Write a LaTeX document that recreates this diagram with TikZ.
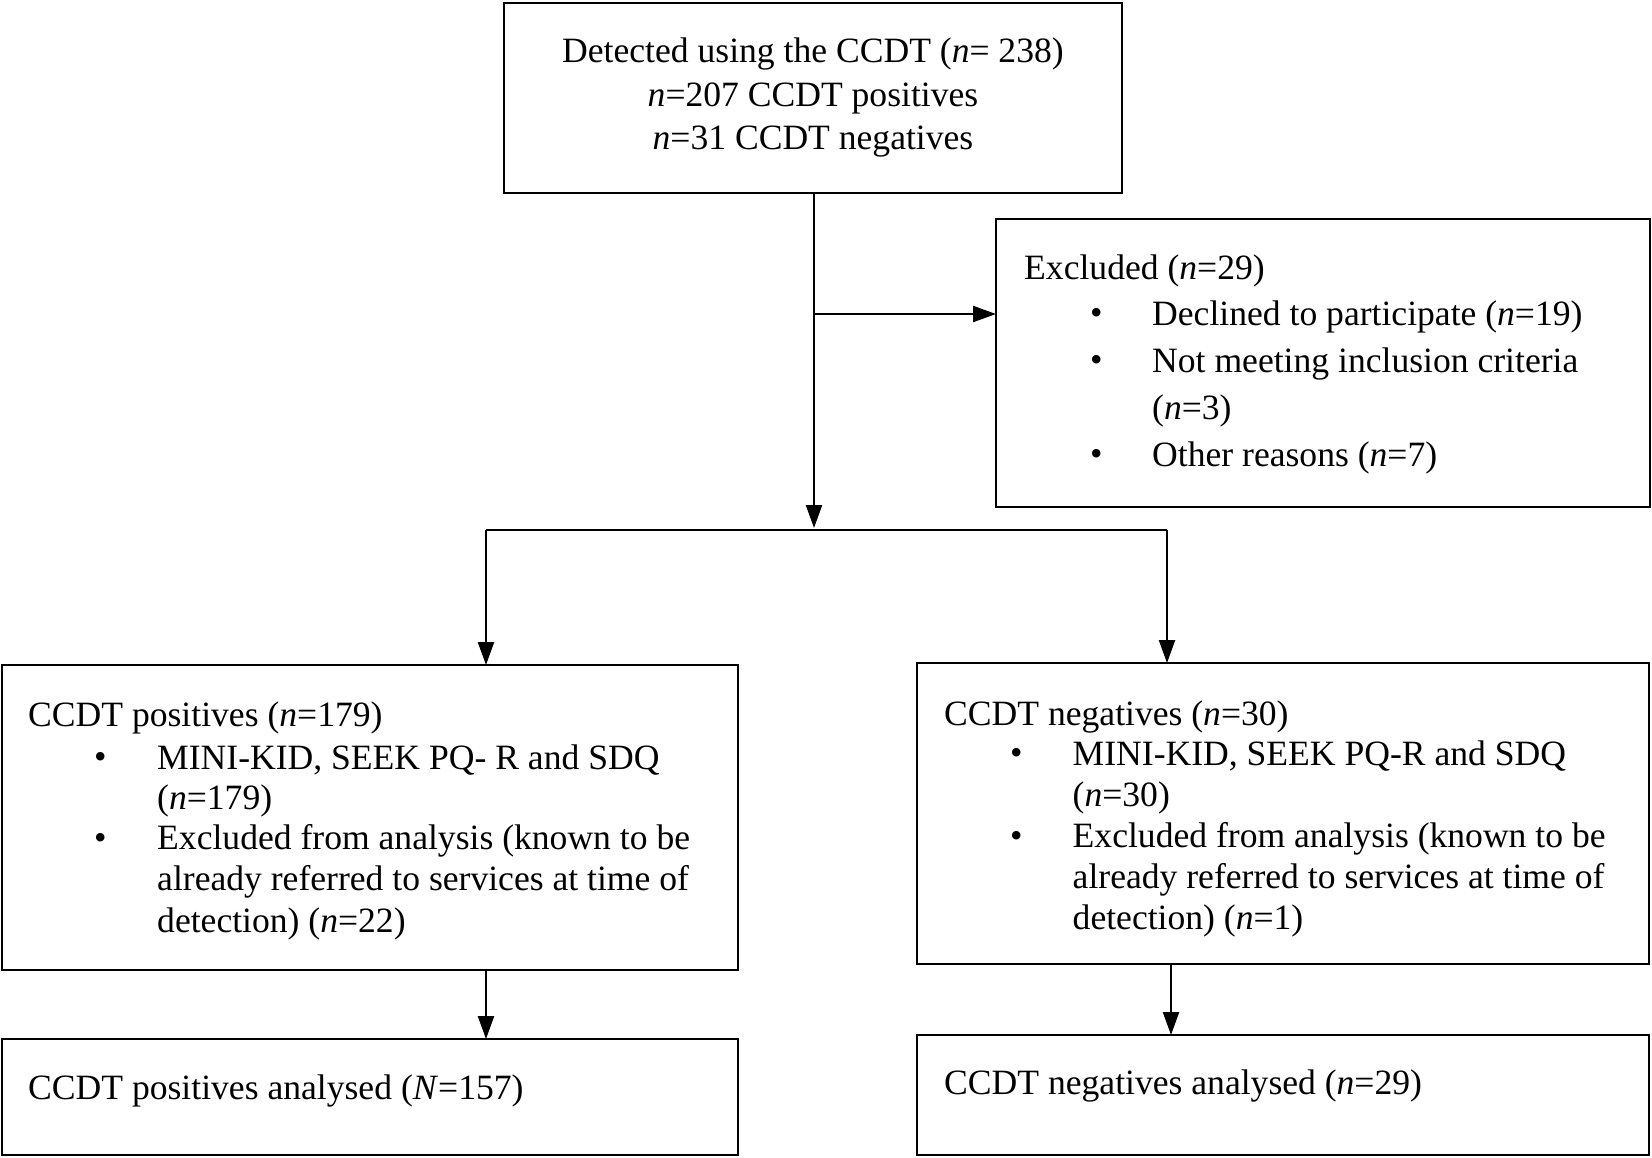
\documentclass[tikz,border=0pt]{standalone}
\usepackage{fontspec}
\setmainfont{Liberation Serif}
\usetikzlibrary{arrows.meta}
\begin{document}
\begin{tikzpicture}[x=1pt,y=-1pt,
  box/.style={draw=black,line width=2.6pt,rectangle,inner sep=0pt,outer sep=0pt},
  txt/.style={anchor=west,inner sep=0pt,yshift=-3.5pt,font=\fontsize{35.6}{42}\selectfont},
  ctxt/.style={anchor=center,inner sep=0pt,yshift=-3.5pt,font=\fontsize{35.6}{42}\selectfont},
  conn/.style={draw=black,line width=2.3pt},
  arr/.style={conn,-{Triangle[length=23pt,width=16pt]}}]
\useasboundingbox (0,0) rectangle (1652,1157);
\fill[white] (0,0) rectangle (1652,1157);
% boxes
\node[box,minimum width=618pt,minimum height=190pt] (top) at (813,98) {};
\node[box,minimum width=654pt,minimum height=288pt] (excl) at (1323,363) {};
\node[box,minimum width=736pt,minimum height=305pt] (left) at (370,817.5) {};
\node[box,minimum width=732pt,minimum height=301pt] (right) at (1283,813.5) {};
\node[box,minimum width=736pt,minimum height=116pt] (bl) at (370,1097) {};
\node[box,minimum width=732pt,minimum height=120pt] (br) at (1283,1095) {};
% texts
\node[ctxt] (t1) at (813,50.6) {Detected using the CCDT (\textit{n}= 238)};
\node[ctxt] (t2) at (813,94.8) {\textit{n}=207 CCDT positives};
\node[ctxt] (t3) at (813,138) {\textit{n}=31 CCDT negatives};
\node[txt] (e0) at (1024,267.6) {Excluded (\textit{n}=29)};
\node[txt] (eb1) at (1090,313) {\textbullet};
\node[txt] (e1) at (1152,313) {Declined to participate (\textit{n}=19)};
\node[txt] (eb2) at (1090,360) {\textbullet};
\node[txt] (e2) at (1152,360) {Not meeting inclusion criteria};
\node[txt] (e3) at (1152,407) {(\textit{n}=3)};
\node[txt] (eb4) at (1090,454) {\textbullet};
\node[txt] (e4) at (1152,454) {Other reasons (\textit{n}=7)};
\node[txt] (l0) at (28,714) {CCDT positives (\textit{n}=179)};
\node[txt] (lb1) at (94,756.5) {\textbullet};
\node[txt] (l1) at (157,756.5) {MINI-KID, SEEK PQ- R and SDQ};
\node[txt] (l2) at (157,797.6) {(\textit{n}=179)};
\node[txt] (lb3) at (94,837.6) {\textbullet};
\node[txt] (l3) at (157,837.6) {Excluded from analysis (known to be};
\node[txt] (l4) at (157,878.7) {already referred to services at time of};
\node[txt] (l5) at (157,920.8) {detection) (\textit{n}=22)};
\node[txt] (r0) at (944,713) {CCDT negatives (\textit{n}=30)};
\node[txt] (rb1) at (1010,753) {\textbullet};
\node[txt] (r1) at (1072.5,753) {MINI-KID, SEEK PQ-R and SDQ};
\node[txt] (r2) at (1072.5,794) {(\textit{n}=30)};
\node[txt] (rb3) at (1010,835.5) {\textbullet};
\node[txt] (r3) at (1072.5,835.5) {Excluded from analysis (known to be};
\node[txt] (r4) at (1072.5,876.6) {already referred to services at time of};
\node[txt] (r5) at (1072.5,917.7) {detection) (\textit{n}=1)};
\node[txt] (b1) at (28,1087) {CCDT positives analysed (\textit{N}=157)};
\node[txt] (b2) at (944,1082) {CCDT negatives analysed (\textit{n}=29)};
% connectors
\coordinate (sm) at (814,530);
\coordinate (bx) at (814,314);
\coordinate (sl) at (486,530);
\coordinate (sr) at (1167,530);
\coordinate (rx) at (1171,0);
\draw[arr] (top.south -| sm) -- ([yshift=2pt]sm);
\draw[arr] (bx) -- (excl.west |- bx);
\draw[conn] (sl) -- (sr);
\draw[arr] (sl) -- (sl |- left.north);
\draw[arr] (sr) -- (sr |- right.north);
\draw[arr] (sl |- left.south) -- (sl |- bl.north);
\draw[arr] (rx |- right.south) -- (rx |- br.north);
\end{tikzpicture}
\end{document}
